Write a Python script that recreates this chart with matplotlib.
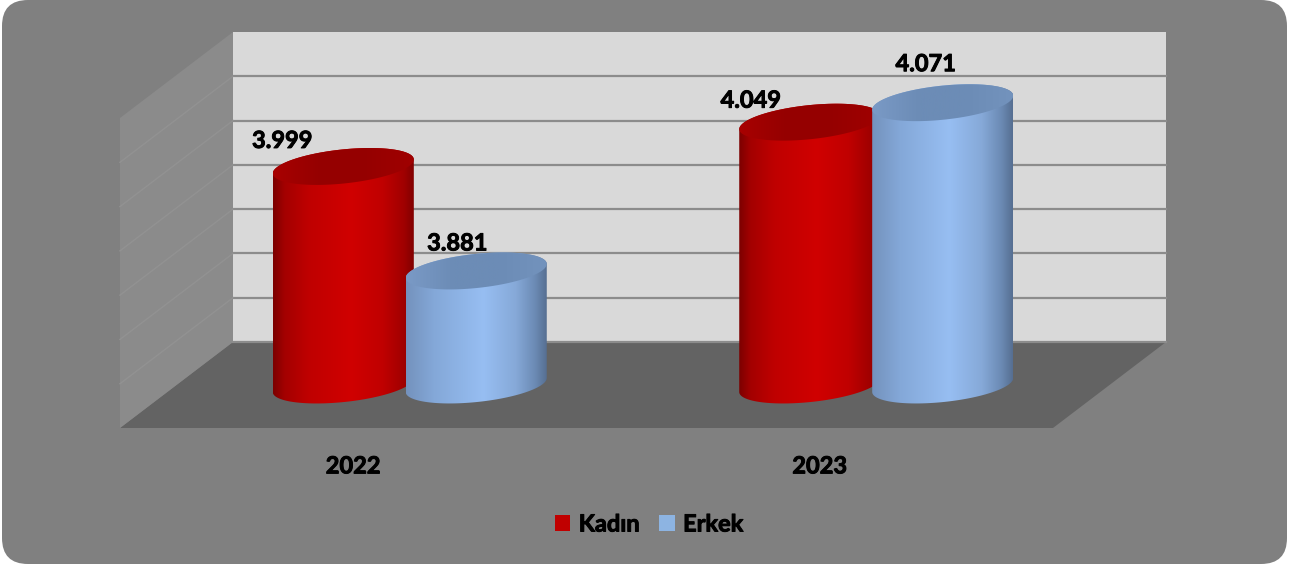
import numpy as np
import matplotlib
matplotlib.use('Agg')
import matplotlib.pyplot as plt
import matplotlib.patheffects as pe
from matplotlib.colors import LinearSegmentedColormap
from matplotlib.patches import FancyBboxPatch, Patch, Polygon
from matplotlib.path import Path
from matplotlib.transforms import Affine2D, IdentityTransform

# data
years = ['2022', '2023']
kadin = [3.999, 4.049]
erkek = [3.881, 4.071]
kadin_labels = ['3.999', '4.049']
erkek_labels = ['3.881', '4.071']
series_names = ['Kadın', 'Erkek']
y_min = 3.75
y_max = 4.10
grid_values = [3.80, 3.85, 3.90, 3.95, 4.00, 4.05]

# label offsets from the top of each cylinder, pixels
kadin_offsets = [(-61, 27), (-59, 23)]
erkek_offsets = [(-19, 29), (-17, 40)]

W, H = 1293, 566
depth_x, depth_y = 113, 86
bar_width = 0.302
bar_shift = 0.1425
font_size = 17
cap_drop = 2
# bold weight comes out thin, so thicken the text a bit
fat = [pe.withStroke(linewidth=0.7, foreground='black')]
# top/bottom ellipse of a cylinder, pixels
ell_a, ell_b, ell_tilt = 70.9, 17.0, np.radians(6)

red_cmap = LinearSegmentedColormap.from_list('red', [(0, '#7c0000'), (0.08, '#a30000'), (0.25, '#bf0000'),
                                                     (0.55, '#d00000'), (0.78, '#c00000'), (0.93, '#a00000'),
                                                     (1, '#820000')])
blue_cmap = LinearSegmentedColormap.from_list('blue', [(0, '#7492bd'), (0.2, '#84a8d8'), (0.55, '#97bef2'),
                                                       (0.78, '#86a9d8'), (0.92, '#6b8ab4'), (1, '#566f92')])
red_cap = LinearSegmentedColormap.from_list('redcap', ['#a80000', '#950000', '#960000', '#a00000'])
blue_cap = LinearSegmentedColormap.from_list('bluecap', ['#7a9ac6', '#6c8cb6', '#6c8cb6', '#7393bd'])

plt.rcParams['font.family'] = ['Lato', 'DejaVu Sans']

fig = plt.figure(figsize=(W / 100, H / 100), dpi=100, facecolor='white')
panel = FancyBboxPatch((2 + 26, H - 564 + 26), 1285 - 52, 564 - 52, boxstyle='round,pad=26,rounding_size=26',
                       transform=IdentityTransform(), facecolor='#808080', edgecolor='none', zorder=-1)
fig.add_artist(panel)

ax = fig.add_axes([120 / W, (H - 428) / H, 933 / W, 310 / H])
ax.set_facecolor('none')
ax.set_xlim(-0.5, 1.5)
ax.set_ylim(y_min, y_max)
for s in ax.spines.values():
    s.set_visible(False)


def depth(d):
    return ax.transData + Affine2D().translate(depth_x * d, depth_y * d)


def to_px(x, y, d):
    return depth(d).transform((x, y))


def ellipse(cx, cy, t):
    x = cx + ell_a * np.cos(t) * np.cos(ell_tilt) - ell_b * np.sin(t) * np.sin(ell_tilt)
    y = cy + ell_a * np.cos(t) * np.sin(ell_tilt) + ell_b * np.sin(t) * np.cos(ell_tilt)
    return np.column_stack([x, y])


def gradient(cmap, path, x, y0, y1, z):
    im = ax.imshow(np.linspace(0, 1, 256).reshape(1, -1), cmap=cmap, aspect='auto', zorder=z,
                   extent=[x - bar_width / 2, x + bar_width / 2, y0, y1], transform=depth(0.5))
    im.set_clip_box(fig.bbox)
    im.set_clip_path(path, IdentityTransform())


def cylinder(x, value, cmap, cap_cmap, z):
    bx, by = to_px(x, y_min, 0.5)
    tx, ty = to_px(x, value, 0.5)
    ty = ty - cap_drop
    t0 = np.arctan(-(ell_b / ell_a) * np.tan(ell_tilt))
    t_half = np.linspace(t0, t0 + np.pi, 80)
    upper = ellipse(tx, ty, t_half)
    lower = ellipse(bx, by, t_half + np.pi)
    body = np.vstack([upper, lower, upper[:1]])
    gradient(cmap, Path(body, closed=True), x, y_min - 0.05, value + 0.05, z)
    cap = ellipse(tx, ty, np.linspace(0, 2 * np.pi, 160))
    gradient(cap_cmap, Path(cap, closed=True), x, y_min - 0.05, value + 0.05, z + 0.1)


# walls and floor
back = [to_px(-0.5, y_min, 1), to_px(1.5, y_min, 1), to_px(1.5, y_max, 1), to_px(-0.5, y_max, 1)]
floor = [to_px(-0.5, y_min, 0), to_px(1.5, y_min, 0), to_px(1.5, y_min, 1), to_px(-0.5, y_min, 1)]
side = [to_px(-0.5, y_min, 0), to_px(-0.5, y_min, 1), to_px(-0.5, y_max, 1), to_px(-0.5, y_max, 0)]
for pts, col in [(back, '#d9d9d9'), (floor, '#636363'), (side, '#8b8b8b')]:
    ax.add_patch(Polygon(pts, closed=True, facecolor=col, edgecolor='none', transform=IdentityTransform(),
                         clip_on=False, zorder=1))
for v in grid_values + [y_min]:
    ax.plot([-0.5, 1.5], [v, v], color='#8c8c8c', lw=1.6, transform=depth(1), clip_on=False, zorder=2)
for v in grid_values:
    a = to_px(-0.5, v, 1)
    b = to_px(-0.5, v, 0)
    ax.plot([a[0], b[0]], [a[1], b[1]], color='#929292', lw=1.0, transform=IdentityTransform(), clip_on=False, zorder=2)

# cylinders
for i in range(len(years)):
    cylinder(i - bar_shift, kadin[i], red_cmap, red_cap, 3 + i)
    cylinder(i + bar_shift, erkek[i], blue_cmap, blue_cap, 3.5 + i)
    ax.annotate(kadin_labels[i], xy=(i - bar_shift, kadin[i]), xycoords=depth(0.5),
                xytext=(kadin_offsets[i][0] * 0.72, (kadin_offsets[i][1] - cap_drop - 1) * 0.72),
                textcoords='offset points', ha='center', va='center', fontsize=font_size, fontweight='bold',
                color='black', zorder=10, annotation_clip=False, path_effects=fat)
    ax.annotate(erkek_labels[i], xy=(i + bar_shift, erkek[i]), xycoords=depth(0.5),
                xytext=(erkek_offsets[i][0] * 0.72, (erkek_offsets[i][1] - cap_drop - 1) * 0.72),
                textcoords='offset points', ha='center', va='center', fontsize=font_size, fontweight='bold',
                color='black', zorder=10, annotation_clip=False, path_effects=fat)

ax.set_xlim(-0.5, 1.5)
ax.set_ylim(y_min, y_max)
ax.set_xticks(range(len(years)))
ax.set_xticklabels(years, fontsize=font_size, fontweight='bold', color='black', path_effects=fat)
ax.set_yticks([])
ax.tick_params(axis='x', length=0, pad=19)

handles = [Patch(facecolor='#c00000', label=series_names[0]), Patch(facecolor='#8db4e2', label=series_names[1])]
leg = fig.legend(handles=handles, loc='center', bbox_to_anchor=(649 / W, (H - 524) / H), ncols=2, frameon=False,
                 handlelength=0.66, handleheight=0.66, handletextpad=0.36, columnspacing=0.82,
                 labelcolor='black', prop={'weight': 'bold', 'size': 17, 'family': ['Lato', 'DejaVu Sans']})
for t in leg.get_texts():
    t.set_path_effects(fat)

fig.savefig('out.png', dpi=100)
